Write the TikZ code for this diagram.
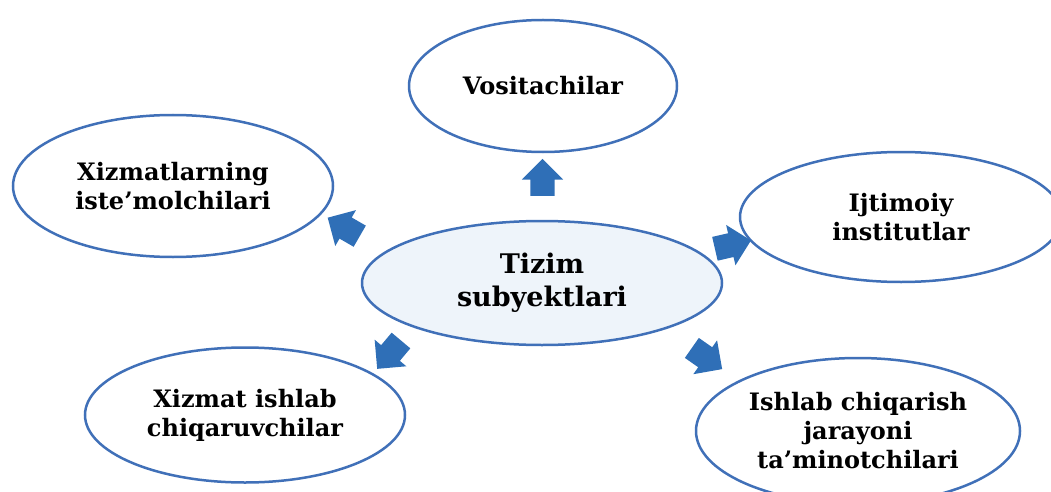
\documentclass[tikz,border=0pt]{standalone}
\usepackage{fontspec}
\setmainfont{DejaVu Serif}
\usetikzlibrary{shapes.geometric,shapes.arrows}
\definecolor{edgeblue}{HTML}{4070B8}
\definecolor{arrowblue}{HTML}{2F6FB7}
\definecolor{centerfill}{HTML}{EEF4FA}
\tikzset{
  ell/.style={ellipse, draw=edgeblue, line width=2.5pt, fill=white, inner sep=0pt, align=center,
    font=\bfseries\fontsize{24}{29}\selectfont},
  bigell/.style={ell, fill=centerfill, font=\bfseries\fontsize{27}{33}\selectfont},
  blockarrow/.style={single arrow, fill=arrowblue, draw=none, inner xsep=0pt, inner ysep=12pt,
    minimum height=37pt, single arrow head extend=8.5pt}
}
\begin{document}
\begin{tikzpicture}[x=1pt,y=-1pt]
\useasboundingbox (0,0) rectangle (1051,492);
\clip (0,0) rectangle (1051,492);
\node[bigell, minimum width=360pt, minimum height=124pt] (c) at (542,283) {Tizim\\subyektlari};
\node[ell, minimum width=268pt, minimum height=132pt] (top) at (543,86) {Vositachilar};
\node[ell, minimum width=320pt, minimum height=142pt] (ul) at (173,186) {Xizmatlarning\\iste’molchilari};
\node[ell, minimum width=322pt, minimum height=130pt] (ur) at (901,217) {Ijtimoiy\\institutlar};
\node[ell, minimum width=320pt, minimum height=135pt] (ll) at (245,415) {Xizmat ishlab\\chiqaruvchilar};
\node[ell, minimum width=324pt, minimum height=146pt] (lr) at (858,431) {Ishlab chiqarish\\jarayoni\\ta’minotchilari};
\node[blockarrow, rotate=90] (a1) at (542.5,183.5) {};
\node[blockarrow, rotate=150] (a2) at (349,230) {};
\node[blockarrow, rotate=13] (a3) at (727,246) {};
\node[blockarrow, rotate=230] (a4) at (393,350) {};
\node[blockarrow, rotate=-35] (a5) at (702,355) {};
\end{tikzpicture}
\end{document}
